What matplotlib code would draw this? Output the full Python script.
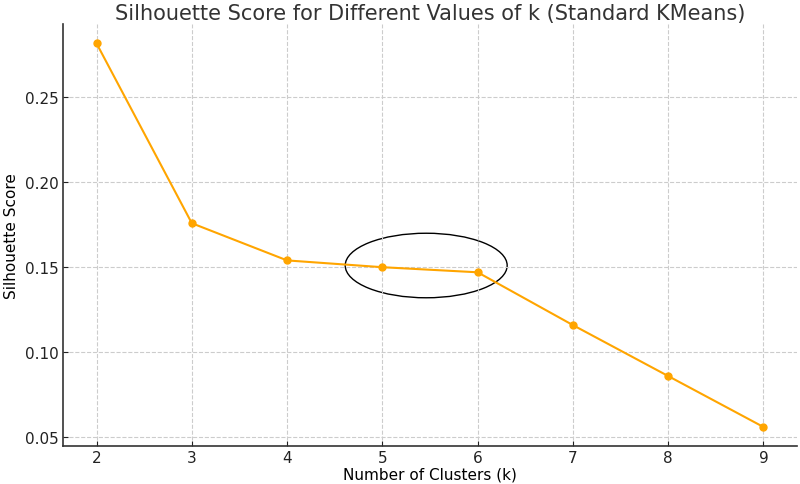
import matplotlib
matplotlib.use("Agg")
import matplotlib.pyplot as plt
from matplotlib.patches import Ellipse

k_values = [2, 3, 4, 5, 6, 7, 8, 9]
silhouette_scores = [0.2818, 0.1759, 0.1540, 0.1500, 0.1470, 0.1159, 0.0859, 0.0559]

fig = plt.figure(figsize=(8, 4.85), dpi=100)
ax = fig.add_axes([0.079, 0.078, 0.917, 0.870])
ax.plot(k_values, silhouette_scores, marker='o', color='#FFA500', linewidth=1.5, markersize=5)
ax.set_title('Silhouette Score for Different Values of k (Standard KMeans)', fontsize=15, color='#333333', pad=4)
ax.set_xlabel('Number of Clusters (k)', fontsize=11, labelpad=1)
ax.set_ylabel('Silhouette Score', fontsize=11)
ax.set_xticks(k_values)
ax.grid(True, linestyle='--', color='#cccccc', linewidth=0.8)
ax.spines['top'].set_visible(False)
ax.spines['right'].set_visible(False)
ax.spines['left'].set_color('#333333')
ax.spines['bottom'].set_color('#333333')
ax.spines['left'].set_linewidth(1.2)
ax.spines['bottom'].set_linewidth(1.2)
ax.tick_params(direction='in', labelsize=11, colors='#222222')
ax.tick_params(axis='x', pad=3)
ax.add_patch(Ellipse((5.46, 0.151), 1.7, 0.038, fill=False, edgecolor='black', linewidth=1))
fig.savefig('out.png', dpi=100)
